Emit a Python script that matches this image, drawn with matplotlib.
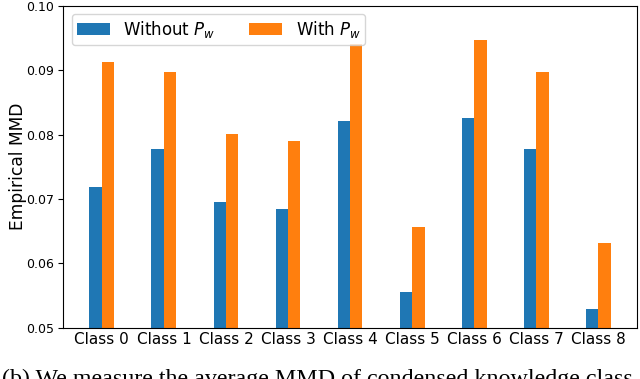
import matplotlib
matplotlib.use("Agg")
import matplotlib.pyplot as plt
import numpy as np

categories = ["Class 0", "Class 1", "Class 2", "Class 3", "Class 4",
              "Class 5", "Class 6", "Class 7", "Class 8"]
without_pw = [0.0719, 0.0778, 0.0695, 0.0685, 0.0821, 0.0556, 0.0825, 0.0778, 0.0529]
with_pw = [0.0913, 0.0897, 0.0801, 0.0790, 0.0941, 0.0656, 0.0946, 0.0897, 0.0632]
yticks = [0.05, 0.06, 0.07, 0.08, 0.09, 0.10]
caption = "(b) We measure the average MMD of condensed knowledge class"

fig = plt.figure(figsize=(6.4, 3.79), dpi=100)
ax = fig.add_axes([0.099, 0.135, 0.896, 0.850])

x = np.arange(len(categories))
w = 0.2
ax.bar(x - w / 2, without_pw, w, color="#1f77b4", label="Without $P_w$")
ax.bar(x + w / 2, with_pw, w, color="#ff7f0e", label="With $P_w$")

ax.set_ylim(0.05, 0.10)
ax.set_yticks(yticks)
ax.set_yticklabels([f"{v:.2f}" for v in yticks], fontsize=9)
ax.set_xticks(x)
ax.set_xticklabels(categories, fontsize=11)
ax.tick_params(axis="x", length=0, pad=3)
ax.set_ylabel("Empirical MMD", fontsize=12.3, labelpad=-1)
ax.legend(loc="upper left", ncol=2, fontsize=12, handlelength=2.0,
          columnspacing=2.0, borderaxespad=0.5, borderpad=0.3)

fig.text(0.003, -0.016, caption, fontsize=17.3, family="Liberation Serif",
         ha="left", va="baseline")

fig.savefig("out.png", dpi=100)
